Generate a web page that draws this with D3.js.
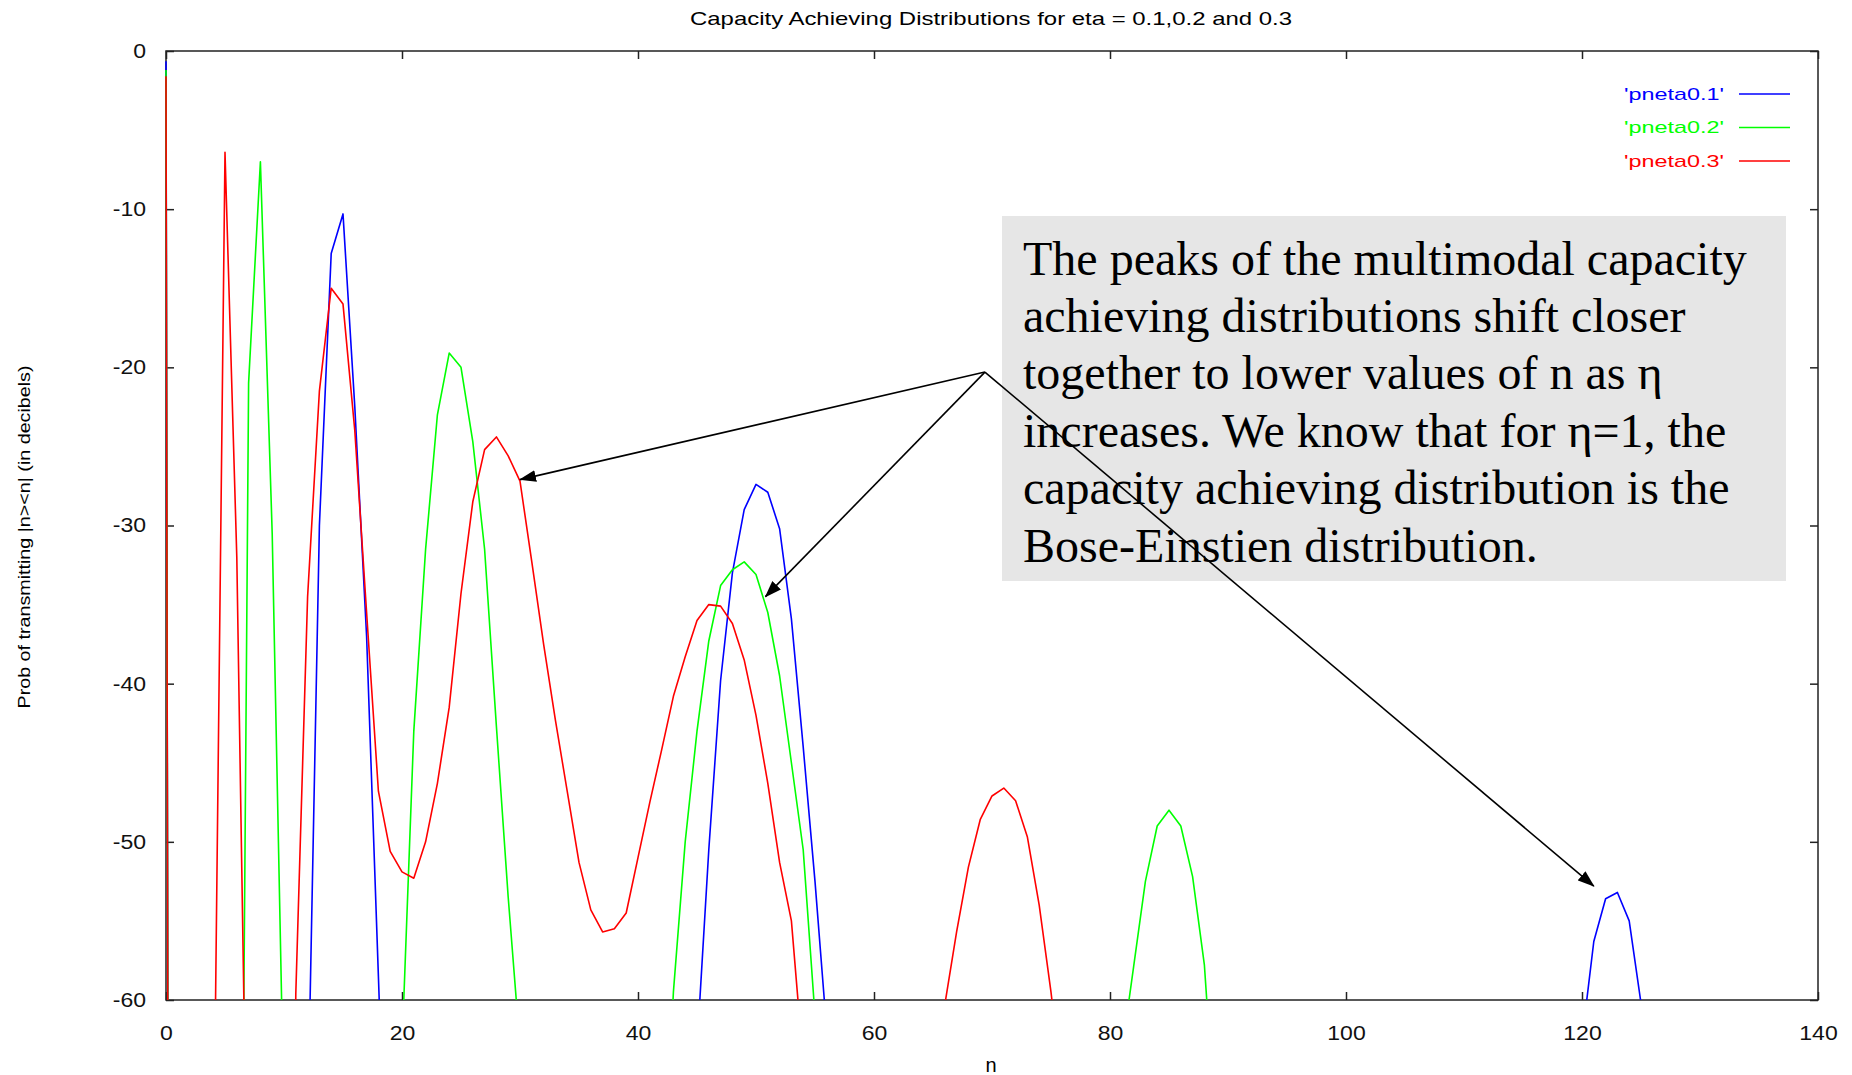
<!DOCTYPE html>
<html>
<head>
<meta charset="utf-8">
<script src="https://cdn.jsdelivr.net/npm/d3@7"></script>
<style>
  body { margin: 0; background: #fff; }
  svg { display: block; }
</style>
</head>
<body>
<svg id="chart" width="1852" height="1075"></svg>
<script>
// [n, dB]. Points below -60 dB sit outside the frame and get clipped,
// they only set where each lobe leaves the bottom edge.
const pneta01 = [
    [0, -0.65], [1, -400], [12, -68], [13, -30], [14, -12.8], [15, -10.3], [16, -22.5],
    [17, -37], [18, -58.5], [19, -80],
    [45, -63], [46, -50.5], [47, -39.8], [48, -33], [49, -29], [50, -27.4], [51, -27.9],
    [52, -30.2], [53, -35.9], [54, -44], [55, -52.5], [56, -62],
    [120, -62.5], [121, -56.3], [122, -53.6], [123, -53.2], [124, -55], [125, -60.2], [126, -75]
];
const pneta02 = [
    [0, -1.2], [1, -400], [6, -118], [7, -21], [8, -7.0], [9, -30.5], [10, -67.5],
    [20, -63], [21, -43], [22, -31.5], [23, -23], [24, -19.1], [25, -20.0], [26, -24.7],
    [27, -31.5], [28, -42.7], [29, -53.5], [30, -63],
    [42, -75], [43, -59.5], [44, -50], [45, -43], [46, -37.3], [47, -33.8], [48, -32.8],
    [49, -32.3], [50, -33.1], [51, -35.5], [52, -39.5], [53, -45], [54, -50.5], [55, -61],
    [81, -63.3], [82, -57.9], [83, -52.5], [84, -49.0], [85, -48.0], [86, -49.0], [87, -52.2],
    [88, -57.8], [89, -68.8]
];
const pneta03 = [
    [0, -1.6], [1, -400], [4, -73.4], [5, -6.4], [6, -32], [7, -78.7],
    [10, -150], [11, -59.6], [12, -34.5], [13, -21.5], [14, -15.0], [15, -16.0], [16, -24],
    [17, -35.5], [18, -46.8], [19, -50.6], [20, -51.9], [21, -52.3], [22, -50], [23, -46.3],
    [24, -41.5], [25, -34.3], [26, -28.5], [27, -25.2], [28, -24.4], [29, -25.6], [30, -27.2],
    [31, -32.3], [32, -37.5], [33, -42.3], [34, -46.8], [35, -51.3], [36, -54.3], [37, -55.7],
    [38, -55.5], [39, -54.5], [40, -51], [41, -47.5], [42, -44.2], [43, -40.8], [44, -38.3],
    [45, -36], [46, -35], [47, -35.1], [48, -36.2], [49, -38.5], [50, -42], [51, -46.3],
    [52, -51.3], [53, -55], [54, -64],
    [66, -60.3], [67, -55.7], [68, -51.6], [69, -48.6], [70, -47.1], [71, -46.6], [72, -47.4],
    [73, -49.7], [74, -54], [75, -59.5], [76, -66]
];

const seriesNames = ["'pneta0.1'", "'pneta0.2'", "'pneta0.3'"];
const seriesColours = ["#0000ff", "#00ff00", "#ff0000"];
const xTicks = [0, 20, 40, 60, 80, 100, 120, 140];
const yTicks = [0, -10, -20, -30, -40, -50, -60];

const titleText = "Capacity Achieving Distributions for eta = 0.1,0.2 and 0.3";
const xLabel = "n";
const yLabel = "Prob of transmitting |n><n| (in decibels)";

const noteLines = [
    "The peaks of the multimodal capacity",
    "achieving distributions shift closer",
    "together to lower values of n as \u03b7",
    "increases. We know that for \u03b7=1, the",
    "capacity achieving distribution is the",
    "Bose-Einstien distribution."
];
// arrows in data units: [from n, from dB, to n, to dB]
const arrows = [
    [69.4, -20.3, 30.0, -27.1],
    [69.4, -20.3, 50.8, -34.5],
    [69.4, -20.3, 121.0, -52.8]
];

const Dims = { left: 166, right: 1818, top: 51, bottom: 1000, tick: 8 };
const plotFont = "'Liberation Sans', Arial, sans-serif";
const frameColour = "#222";

const svg = d3.select("#chart");
const defs = svg.append("defs");

const x = d3.scaleLinear().domain([0, 140]).range([Dims.left, Dims.right]);
const y = d3.scaleLinear().domain([-60, 0]).range([Dims.bottom, Dims.top]);

// plain hyphen for negatives, like gnuplot prints them
const tickLabel = d => String(d);

// gnuplot's lettering here is wider than Liberation Sans at the same height
function widen(sel, factor) {
    sel.each(function () {
        const w = this.getComputedTextLength();
        d3.select(this).attr("textLength", w * factor).attr("lengthAdjust", "spacingAndGlyphs");
    });
}

// title
svg.append("text")
    .attr("x", (Dims.left + Dims.right) / 2 - 1)
    .attr("y", 25)
    .attr("text-anchor", "middle")
    .attr("font-family", plotFont)
    .attr("font-size", 19)
    .attr("textLength", 602)
    .attr("lengthAdjust", "spacingAndGlyphs")
    .text(titleText);

// frame first, the curves are drawn over it (the n = 0 drop runs along the left edge)
svg.append("rect")
    .attr("x", Dims.left)
    .attr("y", Dims.top)
    .attr("width", Dims.right - Dims.left)
    .attr("height", Dims.bottom - Dims.top)
    .attr("fill", "none")
    .attr("stroke", frameColour)
    .attr("stroke-width", 1.5);

// axes, ticks point inwards on all four sides
function styleAxis(g) {
    g.select(".domain").remove();
    g.selectAll(".tick line").attr("stroke", frameColour).attr("stroke-width", 1.5);
    g.selectAll(".tick text").attr("fill", "#111").attr("font-family", plotFont).attr("font-size", 20);
}

const xAxis = svg.append("g")
    .attr("transform", `translate(0,${Dims.bottom})`)
    .call(d3.axisBottom(x).tickValues(xTicks).tickFormat(tickLabel).tickSize(-Dims.tick).tickPadding(26))
    .call(styleAxis);
widen(xAxis.selectAll(".tick text"), 1.15);

svg.append("g")
    .attr("transform", `translate(0,${Dims.top})`)
    .call(d3.axisTop(x).tickValues(xTicks).tickSize(-Dims.tick).tickFormat(""))
    .call(styleAxis);

const yAxis = svg.append("g")
    .attr("transform", `translate(${Dims.left},0)`)
    .call(d3.axisLeft(y).tickValues(yTicks).tickFormat(tickLabel).tickSize(-Dims.tick).tickPadding(20))
    .call(styleAxis);
widen(yAxis.selectAll(".tick text"), 1.15);

svg.append("g")
    .attr("transform", `translate(${Dims.right},0)`)
    .call(d3.axisRight(y).tickValues(yTicks).tickSize(-Dims.tick).tickFormat(""))
    .call(styleAxis);

// axis labels
svg.append("text")
    .attr("x", (Dims.left + Dims.right) / 2 - 1)
    .attr("y", 1072)
    .attr("text-anchor", "middle")
    .attr("font-family", plotFont)
    .attr("font-size", 20)
    .text(xLabel);

svg.append("text")
    .attr("transform", "translate(24,537) rotate(-90)")
    .attr("text-anchor", "middle")
    .attr("dy", "0.35em")
    .attr("font-family", plotFont)
    .attr("font-size", 17)
    .attr("textLength", 343)
    .attr("lengthAdjust", "spacingAndGlyphs")
    .text(yLabel);

// series lines, clipped to the frame
defs.append("clipPath")
    .attr("id", "plotClip")
    .append("rect")
    .attr("x", Dims.left - 1)
    .attr("y", Dims.top - 1)
    .attr("width", Dims.right - Dims.left + 2)
    .attr("height", Dims.bottom - Dims.top + 1);

const line = d3.line()
    .x(d => x(d[0]))
    .y(d => y(d[1]));

const series = [pneta01, pneta02, pneta03];

svg.append("g")
    .attr("clip-path", "url(#plotClip)")
    .selectAll("path")
    .data(series)
    .join("path")
    .attr("d", line)
    .attr("fill", "none")
    .attr("stroke", (d, i) => seriesColours[i])
    .attr("stroke-width", 1.6)
    .attr("stroke-linejoin", "round");

// legend, top right inside the frame
const legendRows = [94, 127.5, 161];
const legend = svg.append("g")
    .selectAll("g")
    .data(seriesNames)
    .join("g")
    .attr("transform", (d, i) => `translate(0,${legendRows[i]})`);

legend.append("text")
    .attr("x", 1724)
    .attr("dy", "0.35em")
    .attr("text-anchor", "end")
    .attr("font-family", plotFont)
    .attr("font-size", 17)
    .attr("fill", (d, i) => seriesColours[i])
    .attr("textLength", 100)
    .attr("lengthAdjust", "spacingAndGlyphs")
    .text(d => d);

legend.append("line")
    .attr("x1", 1739)
    .attr("x2", 1790)
    .attr("stroke", (d, i) => seriesColours[i])
    .attr("stroke-width", 1.6);

// the grey note box
const note = svg.append("g");
note.append("rect")
    .attr("x", 1002)
    .attr("y", 216)
    .attr("width", 784)
    .attr("height", 365)
    .attr("fill", "#e6e6e6");

note.selectAll("text")
    .data(noteLines)
    .join("text")
    .attr("x", 1023)
    .attr("y", (d, i) => 274.5 + i * 57.4)
    .attr("font-family", "'Liberation Serif', 'Times New Roman', serif")
    .attr("font-size", 48)
    .attr("fill", "#000")
    .text(d => d);

// arrows drawn over everything
defs.append("marker")
    .attr("id", "head")
    .attr("markerUnits", "userSpaceOnUse")
    .attr("markerWidth", 17)
    .attr("markerHeight", 12)
    .attr("refX", 16)
    .attr("refY", 6)
    .attr("orient", "auto")
    .append("path")
    .attr("d", "M0,0 L17,6 L0,12 Z")
    .attr("fill", "#000");

svg.append("g")
    .selectAll("line")
    .data(arrows)
    .join("line")
    .attr("x1", d => x(d[0]))
    .attr("y1", d => y(d[1]))
    .attr("x2", d => x(d[2]))
    .attr("y2", d => y(d[3]))
    .attr("stroke", "#000")
    .attr("stroke-width", 1.6)
    .attr("marker-end", "url(#head)");
</script>
</body>
</html>
